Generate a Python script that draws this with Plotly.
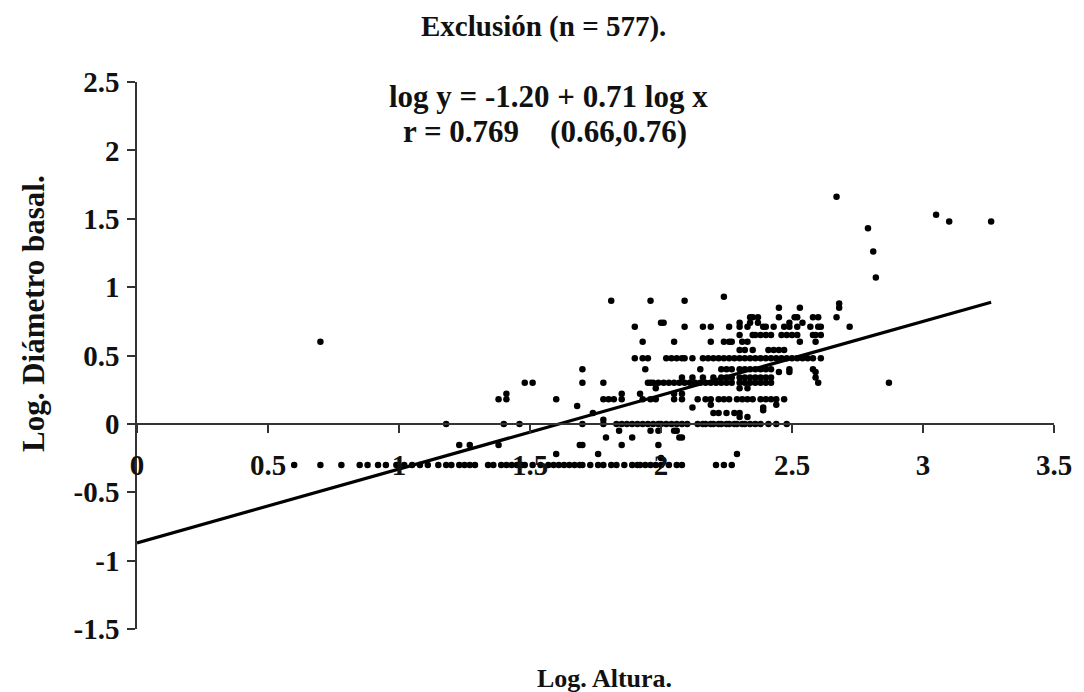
import plotly.graph_objects as go

# ---- data (log altura values per log diametro level) ----
x_at_m030 = [0.60, 0.70, 0.78, 0.85, 0.88, 0.92, 0.95, 0.99, 1.02, 1.05, 1.08, 1.11, 1.15, 1.18,
             1.20, 1.23, 1.25, 1.27, 1.29, 1.34, 1.36, 1.39, 1.41, 1.43, 1.45, 1.47, 1.48, 1.51,
             1.54, 1.57, 1.59, 1.61, 1.63, 1.65, 1.67, 1.69, 1.70, 1.73, 1.76, 1.78, 1.81, 1.83,
             1.86, 1.89, 1.91, 1.92, 1.94, 1.96, 1.98, 2.00, 2.03, 2.06, 2.08, 2.21, 2.24, 2.27]
x_at_m025 = [2.00]
x_at_m022 = [1.60, 1.76, 2.29]
x_at_m015 = [1.23, 1.27, 1.38, 1.69, 1.70, 1.85, 1.99]
x_at_m010 = [1.79, 1.89, 2.07, 2.08]
x_at_m005 = [1.84, 1.96, 1.99, 2.05, 2.06]
x_at_000 = [1.18, 1.40, 1.46, 1.70, 1.78, 1.83, 1.85, 1.87, 1.89, 1.91, 1.93, 1.95, 1.97, 1.99,
            2.00, 2.02, 2.04, 2.06, 2.08, 2.10, 2.14, 2.16, 2.17, 2.19, 2.20, 2.22, 2.23, 2.25,
            2.26, 2.28, 2.29, 2.31, 2.32, 2.34, 2.36, 2.38, 2.41, 2.44, 2.48]
x_at_003 = [1.78]
x_at_005 = [2.30, 2.33]
x_at_008 = [1.74, 2.20, 2.22, 2.25, 2.28, 2.30]
x_at_010 = [2.39]
x_at_012 = [2.12, 2.39]
x_at_013 = [1.68]
x_at_014 = [2.19, 2.44]
x_at_018 = [1.38, 1.41, 1.60, 1.78, 1.80, 1.82, 1.85, 1.93, 1.96, 1.98, 2.05, 2.08, 2.14, 2.17,
            2.19, 2.22, 2.24, 2.26, 2.29, 2.31, 2.33, 2.35, 2.38, 2.40, 2.42, 2.44, 2.47]
x_at_022 = [1.41, 1.85, 1.92, 2.05, 2.08]
x_at_026 = [1.98, 2.30, 2.33]
x_at_030 = [1.48, 1.51, 1.70, 1.78, 1.95, 1.96, 1.97, 1.99, 2.01, 2.03, 2.05, 2.07, 2.09, 2.11,
            2.13, 2.15, 2.17, 2.19, 2.21, 2.23, 2.25, 2.27, 2.30, 2.32, 2.34, 2.36, 2.38, 2.40,
            2.42, 2.60, 2.87]
x_at_034 = [2.08, 2.12, 2.16, 2.20, 2.23, 2.25, 2.27, 2.30, 2.32, 2.34, 2.36, 2.38, 2.40, 2.42, 2.59]
x_at_038 = [2.45, 2.49, 2.59]
x_at_040 = [1.70, 1.94, 2.15, 2.23, 2.25, 2.27, 2.30, 2.32, 2.34, 2.36, 2.38, 2.40, 2.42, 2.49, 2.58]
x_at_048 = [1.90, 1.93, 1.95, 2.02, 2.04, 2.06, 2.08, 2.09, 2.12, 2.16, 2.18, 2.20, 2.22, 2.24,
            2.26, 2.28, 2.30, 2.32, 2.34, 2.36, 2.38, 2.40, 2.42, 2.44, 2.46, 2.48, 2.50, 2.52,
            2.54, 2.56, 2.58, 2.61]
x_at_054 = [2.30, 2.32, 2.35, 2.41, 2.43, 2.45, 2.47]
x_at_060 = [0.70, 1.93, 2.05, 2.19, 2.24, 2.26, 2.27, 2.31, 2.33, 2.53, 2.59]
x_at_065 = [2.30, 2.35, 2.36, 2.38, 2.40, 2.42, 2.46, 2.48, 2.50, 2.52, 2.58, 2.59, 2.61]
x_at_071 = [1.90, 2.09, 2.16, 2.19, 2.26, 2.30, 2.33, 2.39, 2.40, 2.43, 2.47, 2.49, 2.52, 2.57,
            2.60, 2.61, 2.72]
x_at_074 = [2.00, 2.01, 2.30, 2.34, 2.37, 2.49, 2.54]
x_at_078 = [2.34, 2.35, 2.37, 2.45, 2.51, 2.52, 2.58, 2.60, 2.67]
x_at_085 = [2.45, 2.53, 2.68]
x_at_088 = [2.68]
x_at_090 = [1.81, 1.96, 2.09]
x_at_093 = [2.24]

outlier_x = [2.82, 2.81, 2.79, 3.10, 3.26, 3.05, 2.67]
outlier_y = [1.07, 1.26, 1.43, 1.48, 1.48, 1.53, 1.66]

line_x = [0.0, 3.26]
line_y = [-0.87, 0.89]

level_rows = [(-0.30, x_at_m030), (-0.25, x_at_m025), (-0.22, x_at_m022), (-0.155, x_at_m015),
              (-0.10, x_at_m010), (-0.05, x_at_m005), (0.0, x_at_000), (0.03, x_at_003),
              (0.05, x_at_005), (0.08, x_at_008), (0.10, x_at_010), (0.12, x_at_012),
              (0.13, x_at_013), (0.14, x_at_014), (0.18, x_at_018), (0.22, x_at_022),
              (0.26, x_at_026), (0.30, x_at_030), (0.34, x_at_034), (0.38, x_at_038),
              (0.40, x_at_040), (0.48, x_at_048), (0.54, x_at_054), (0.60, x_at_060),
              (0.65, x_at_065), (0.71, x_at_071), (0.74, x_at_074), (0.78, x_at_078),
              (0.85, x_at_085), (0.88, x_at_088), (0.90, x_at_090), (0.93, x_at_093)]

xs, ys = [], []
for yv, row in level_rows:
    xs.extend(row)
    ys.extend([yv] * len(row))
xs.extend(outlier_x)
ys.extend(outlier_y)

x_ticks = [0, 0.5, 1, 1.5, 2, 2.5, 3, 3.5]
x_tick_text = ["0", "0.5", "1", "1.5", "2", "2.5", "3", "3.5"]
y_ticks = [-1.5, -1, -0.5, 0, 0.5, 1, 1.5, 2, 2.5]
y_tick_text = ["-1.5", "-1", "-0.5", "0", "0.5", "1", "1.5", "2", "2.5"]

FONT = "Liberation Serif, Times New Roman, serif"
TXT = "#111111"
tickfont = dict(family=FONT, size=29, color=TXT, weight="bold")

fig = go.Figure()
fig.add_trace(go.Scatter(x=xs, y=ys, mode="markers",
                         marker=dict(size=6.5, color="black"), cliponaxis=False,
                         showlegend=False, hoverinfo="x+y"))
fig.add_trace(go.Scatter(x=line_x, y=line_y, mode="lines",
                         line=dict(color="black", width=3.2), showlegend=False))

fig.update_layout(
    width=1084, height=692,
    margin=dict(l=137, r=30, t=82, b=63),
    paper_bgcolor="white", plot_bgcolor="white",
    font=dict(family=FONT, color=TXT),
    xaxis=dict(range=[0, 3.5], tickvals=x_ticks, ticktext=x_tick_text,
               anchor="free", position=0.375,
               showline=True, linecolor="#333", linewidth=1.5,
               ticks="outside", ticklen=8, tickcolor="#333", tickwidth=1.5,
               showgrid=False, zeroline=False, tickfont=tickfont,
               ticklabelstandoff=8),
    yaxis=dict(range=[-1.5, 2.5], tickvals=y_ticks, ticktext=y_tick_text,
               showline=True, linecolor="#333", linewidth=1.5,
               ticks="outside", ticklen=8, tickcolor="#333", tickwidth=1.5,
               showgrid=False, zeroline=False, tickfont=tickfont,
               ticklabelstandoff=2),
)

def ann(text, px, py, size, angle=0):
    return dict(text=text, xref="paper", yref="paper",
                x=(px - 137) / 917, y=(629 - py) / 547,
                xanchor="center", yanchor="middle", showarrow=False, textangle=angle,
                font=dict(family=FONT, size=size, color=TXT, weight="bold"))

fig.update_layout(annotations=[
    ann("Exclusión (n = 577).", 543, 27, 29),
    ann("log y = -1.20 + 0.71 log x", 548, 96, 31),
    ann("r = 0.769\u00a0\u00a0\u00a0\u00a0(0.66,0.76)", 545, 131, 31),
    ann("Log. Altura.", 604, 678, 26),
    ann("Log. Diámetro basal.", 33, 314, 31, -90),
])

fig.write_html("out.html")
